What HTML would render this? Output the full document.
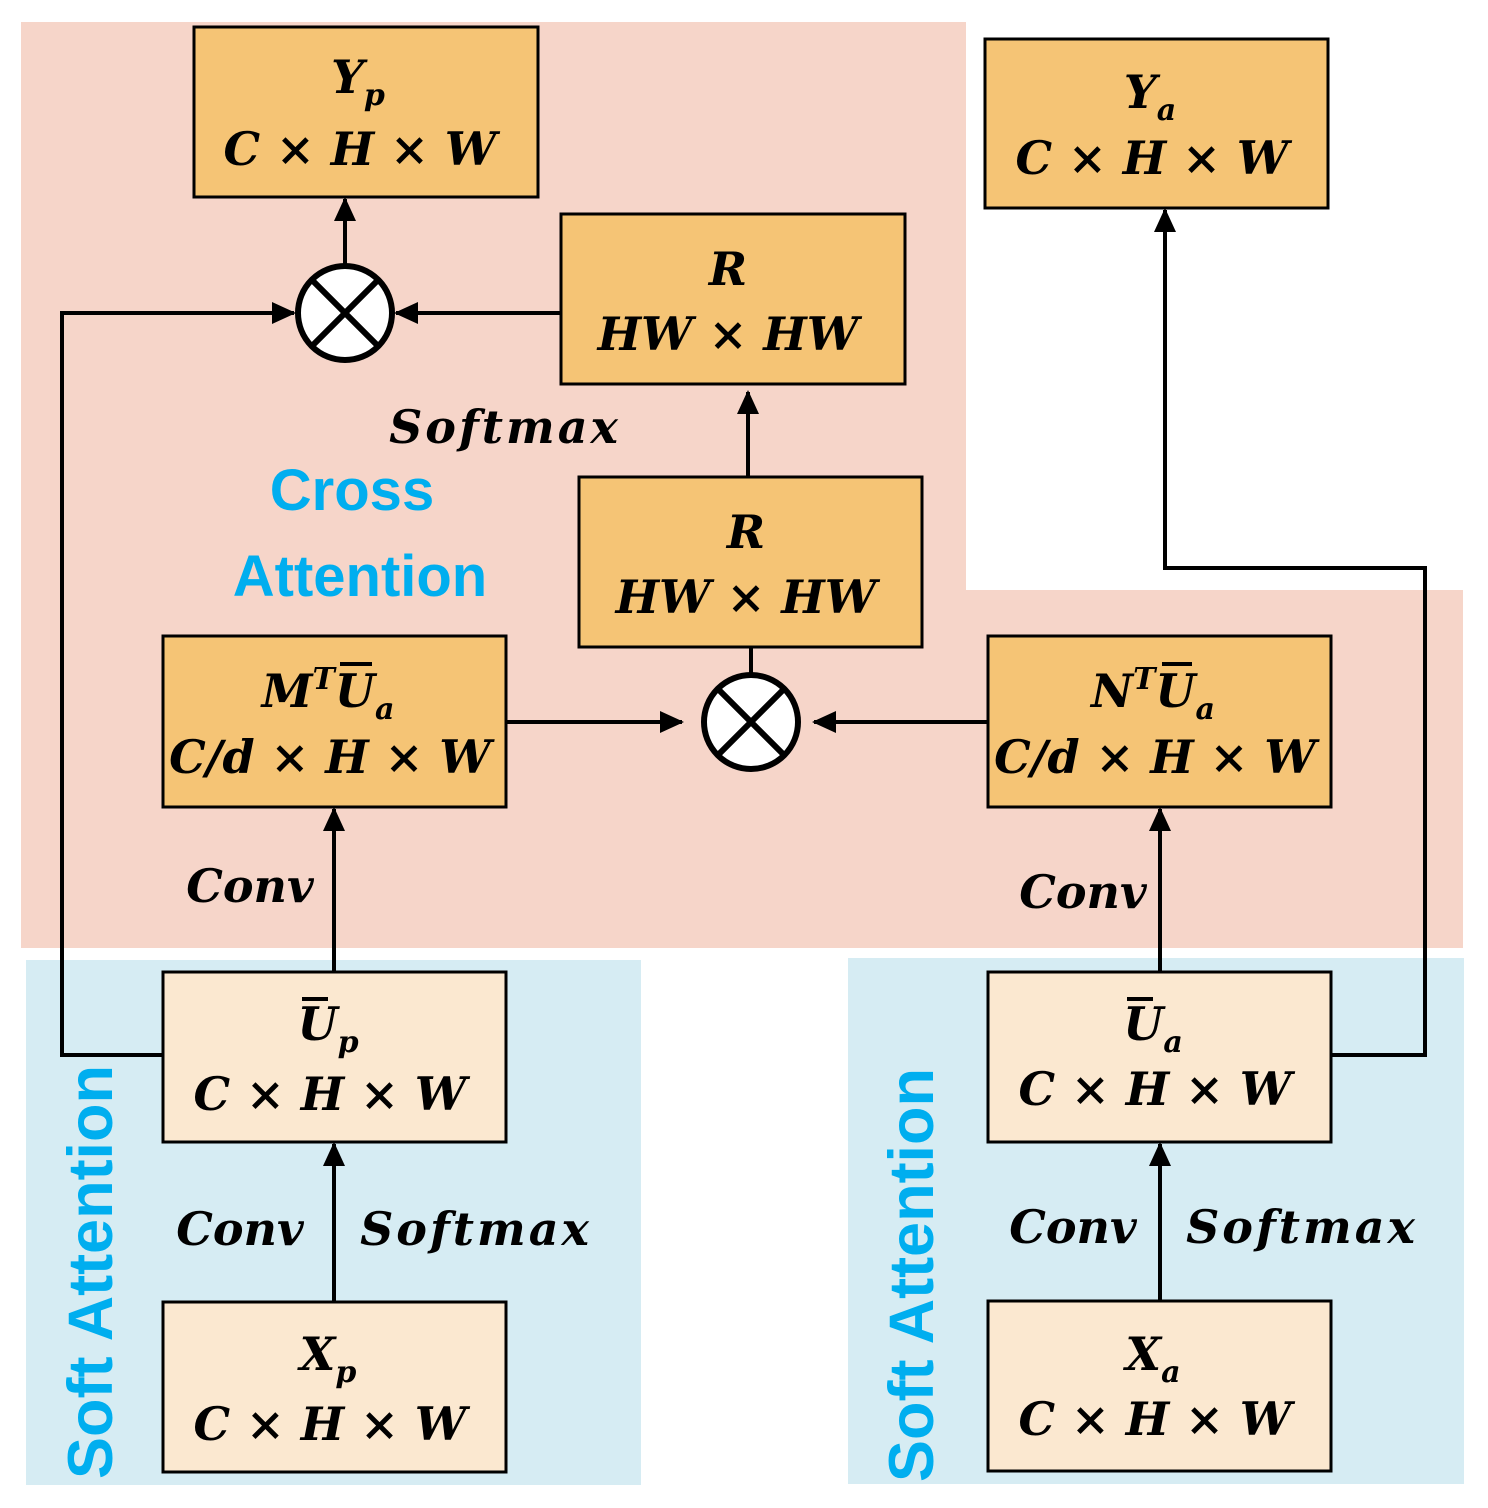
<!DOCTYPE html>
<html><head><style>body{margin:0;background:#fff}svg{display:block}
.m{font-family:"DejaVu Serif","Liberation Serif",serif;font-weight:bold;font-style:italic;font-size:46px;text-anchor:middle;fill:#000}
.s{font-size:30px}
.c{font-family:"Liberation Sans","DejaVu Sans",sans-serif;font-weight:bold;font-size:58px;fill:#00aeef;text-anchor:middle}
.o{fill:#f5c475;stroke:#000;stroke-width:3}
.l{fill:#fbe8d0;stroke:#000;stroke-width:3}
.ln{stroke:#000;stroke-width:4;fill:none}
</style></head><body>
<svg width="1488" height="1508" viewBox="0 0 1488 1508" xmlns="http://www.w3.org/2000/svg">
<defs>
<marker id="b" markerWidth="24" markerHeight="22" refX="22" refY="11" orient="auto" markerUnits="userSpaceOnUse"><path d="M0,0L24,11L0,22z"/></marker></defs>
<polygon points="21,22 966,22 966,590 1463,590 1463,948 21,948" fill="#f6d5c9"/>
<rect x="26" y="960" width="615" height="525" fill="#d6ecf3"/>
<rect x="848" y="958" width="616" height="526" fill="#d6ecf3"/>
<g class="ln">
<path d="M163,1055H62V313H294" marker-end="url(#b)"/>
<path d="M561,313H396" marker-end="url(#b)"/>
<path d="M345,265V199" marker-end="url(#b)"/>
<path d="M748,477V392" marker-end="url(#b)"/>
<path d="M751,647V674"/>
<path d="M506,722H682" marker-end="url(#b)"/>
<path d="M988,722H814" marker-end="url(#b)"/>
<path d="M334,972V809" marker-end="url(#b)"/>
<path d="M1160,972V809" marker-end="url(#b)"/>
<path d="M334,1302V1144" marker-end="url(#b)"/>
<path d="M1160,1301V1144" marker-end="url(#b)"/>
<path d="M1331,1055H1425V568H1165V210" marker-end="url(#b)"/>
</g>
<g fill="#fff" stroke="#000" stroke-width="6">
<circle cx="345" cy="313" r="47"/><path d="M312,280L378,346M378,280L312,346"/>
<circle cx="751" cy="722" r="47"/><path d="M718,689L784,755M784,689L718,755"/>
</g>
<rect class="o" x="194" y="27" width="344" height="170"/>
<rect class="o" x="985" y="39" width="343" height="169"/>
<rect class="o" x="561" y="214" width="344" height="170"/>
<rect class="o" x="579" y="477" width="343" height="170"/>
<rect class="o" x="163" y="636" width="343" height="171"/>
<rect class="o" x="988" y="636" width="343" height="171"/>
<rect class="l" x="163" y="972" width="343" height="170"/>
<rect class="l" x="988" y="972" width="343" height="170"/>
<rect class="l" x="163" y="1302" width="343" height="170"/>
<rect class="l" x="988" y="1301" width="343" height="170"/>
<text class="m" x="358" y="93">Y<tspan class="s" dy="12">p</tspan></text>
<text class="m" x="360" y="165">C × H × W</text>
<text class="m" x="1150" y="108">Y<tspan class="s" dy="12">a</tspan></text>
<text class="m" x="1152" y="174">C × H × W</text>
<text class="m" x="728" y="285">R</text>
<text class="m" x="728" y="350">HW × HW</text>
<text class="m" x="746" y="548">R</text>
<text class="m" x="746" y="613">HW × HW</text>
<text class="m" x="328" y="707">M<tspan class="s" dy="-18">T</tspan><tspan dy="18">U</tspan><tspan class="s" dy="12">a</tspan></text>
<text class="m" x="330" y="773">C/d × H × W</text>
<text class="m" x="1153" y="707">N<tspan class="s" dy="-18">T</tspan><tspan dy="18">U</tspan><tspan class="s" dy="12">a</tspan></text>
<path d="M1162,664h30" stroke="#000" stroke-width="4"/><path d="M340,664h32" stroke="#000" stroke-width="4"/>
<text class="m" x="1155" y="773">C/d × H × W</text>
<text class="m" x="328" y="1040">U<tspan class="s" dy="12">p</tspan></text>
<path d="M302,999h26" stroke="#000" stroke-width="4"/>
<text class="m" x="330" y="1110">C × H × W</text>
<text class="m" x="1153" y="1040">U<tspan class="s" dy="12">a</tspan></text>
<path d="M1127,999h26" stroke="#000" stroke-width="4"/>
<text class="m" x="1155" y="1105">C × H × W</text>
<text class="m" x="328" y="1370">X<tspan class="s" dy="12">p</tspan></text>
<text class="m" x="330" y="1440">C × H × W</text>
<text class="m" x="1153" y="1370">X<tspan class="s" dy="12">a</tspan></text>
<text class="m" x="1155" y="1435">C × H × W</text>
<text class="m" x="505" y="443" letter-spacing="3">Softmax</text>
<text class="m" x="250" y="902">Conv</text>
<text class="m" x="1083" y="908">Conv</text>
<text class="m" x="240" y="1245">Conv</text>
<text class="m" x="476" y="1245" letter-spacing="3">Softmax</text>
<text class="m" x="1073" y="1243">Conv</text>
<text class="m" x="1302" y="1243" letter-spacing="3">Softmax</text>
<text class="c" x="352" y="510">Cross</text>
<text class="c" x="360" y="596">Attention</text>
<text class="c" transform="translate(112,1272) rotate(-90)" style="font-size:63px">Soft Attention</text>
<text class="c" transform="translate(933,1275) rotate(-90)" style="font-size:63px">Soft Attention</text>
</svg>
</body></html>
